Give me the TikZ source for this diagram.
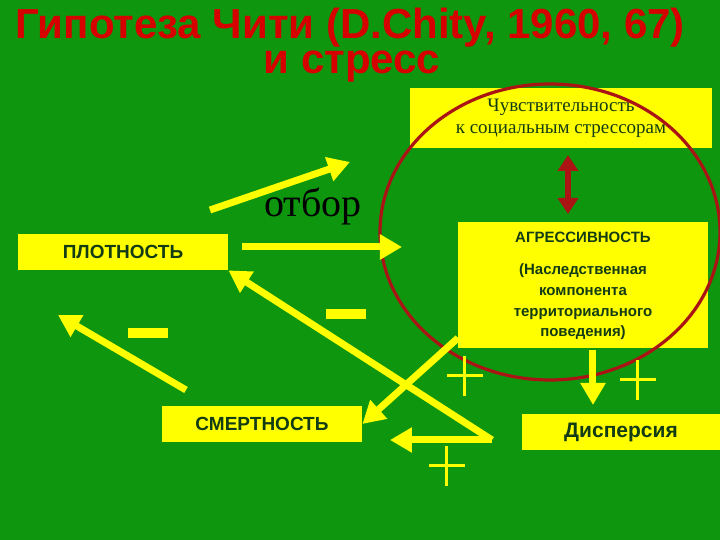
\documentclass[tikz,border=0pt]{standalone}
\usepackage{fontspec}
\setmainfont{Liberation Serif}
\newfontfamily\sans{Liberation Sans}
\usetikzlibrary{arrows.meta}
\definecolor{bg}{RGB}{14,150,14}
\definecolor{ylw}{RGB}{255,255,0}
\definecolor{txt}{RGB}{20,60,20}
\definecolor{ttl}{RGB}{215,0,0}
\definecolor{dred}{RGB}{170,20,20}
\tikzset{
 box/.style={fill=ylw,inner sep=0pt,text=txt,font=\sans\bfseries},
 yarr/.style={draw=ylw,line width=3.5pt,-{Triangle[length=11pt,width=12pt]}},
 minus/.style={draw=ylw,line width=5pt},
 plus/.style={draw=ylw,line width=1.5pt},
 ttlst/.style={text=ttl,font=\sans\bfseries\fontsize{21}{22}\selectfont},
}
\begin{document}
\begin{tikzpicture}[x=0.5pt,y=-0.5pt]
\fill[bg] (0,0) rectangle (720,540);
\useasboundingbox (0,0) rectangle (720,540);
\node[ttlst] (t1) at (350,28) {Гипотеза Чити (D.Chity, 1960, 67)};
\node[ttlst] (t2) at (352,67) {и стресс};
\node[fill=ylw,minimum width=151pt,minimum height=30pt,inner sep=0pt,align=center,text=txt,font=\fontsize{9.5}{11}\selectfont] (sens) at (561,118) {Чувствительность\\к социальным стрессорам};
\node[box,minimum width=125pt,minimum height=63pt] (agr) at (583,285) {};
\node[text=txt,font=\sans\bfseries\fontsize{7.5}{9}\selectfont] (agrt) at (583,237) {АГРЕССИВНОСТЬ};
\node[text=txt,font=\sans\bfseries\fontsize{7.5}{10.3}\selectfont,align=center] (agrs) at (583,302) {(Наследственная\\компонента\\территориального\\поведения)};
\node[box,minimum width=105pt,minimum height=18pt,font=\sans\bfseries\fontsize{9.5}{11}\selectfont] (pl) at (123,252) {ПЛОТНОСТЬ};
\node[box,minimum width=100pt,minimum height=18pt,font=\sans\bfseries\fontsize{9.5}{11}\selectfont] (sm) at (262,424) {СМЕРТНОСТЬ};
\node[box,minimum width=99pt,minimum height=18pt,font=\sans\bfseries\fontsize{10.5}{12}\selectfont] (disp) at (621,432) {Дисперсия};
\node[font=\fontsize{20}{20}\selectfont,text=black] (otb) at (313,206) {отбор};
\draw[dred,line width=1.6pt] (550,232) ellipse [x radius=170,y radius=148];
\draw[dred,line width=3pt,{Triangle[length=8pt,width=10pt]}-{Triangle[length=8pt,width=10pt]}] (568,155) -- (568,214);
\coordinate (a1s) at (210,210); \coordinate (a1e) at (350,162);
\draw[yarr] (a1s) -- (a1e);
\coordinate (a2s) at (242,247); \coordinate (a2e) at (402,247);
\draw[yarr] (a2s) -- (a2e);
\coordinate (dx) at (492,440);
\draw[yarr] (dx) -- (pl.south east);
\coordinate (a4s) at (186,390); \coordinate (a4e) at (58,315);
\draw[yarr] (a4s) -- (a4e);
\coordinate (a5s) at (458,338);
\draw[yarr] (a5s) -- (sm.east);
\coordinate (a6e) at (390,440);
\draw[yarr] (dx) -- (a6e);
\coordinate (a7s) at (593,350); \coordinate (a7e) at (593,405);
\draw[yarr] (a7s) -- (a7e);
\draw[minus] (128,333) -- (168,333);
\draw[minus] (326,314) -- (366,314);
\foreach \px/\py in {465/376,638/380,447/466}{
 \draw[plus] (\px-18,\py) -- (\px+18,\py);
 \draw[plus] (\px,\py-20) -- (\px,\py+20);
}
\end{tikzpicture}
\end{document}
